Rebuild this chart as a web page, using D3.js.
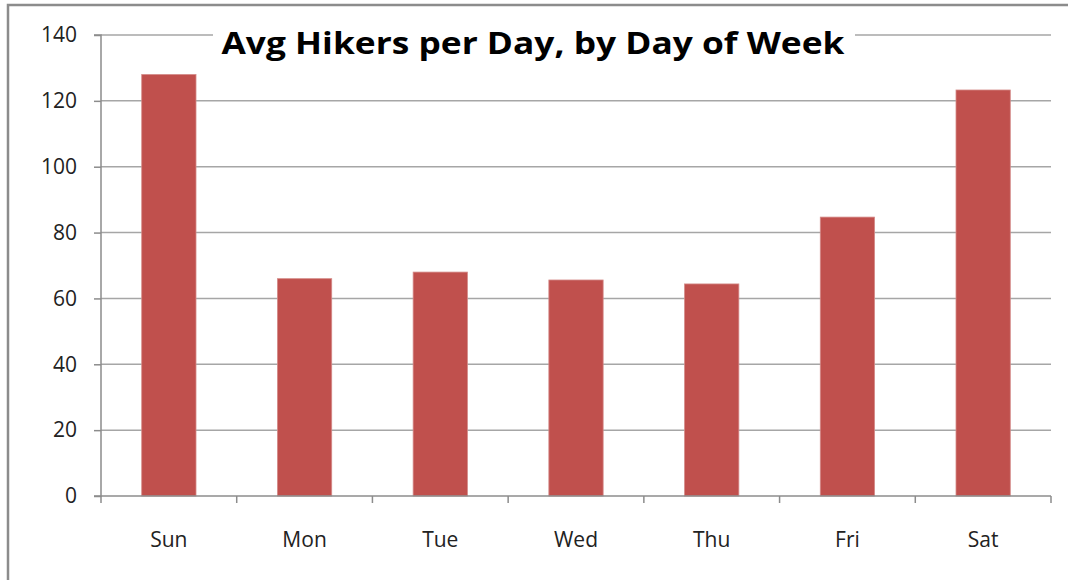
<!DOCTYPE html>
<html><head><meta charset="utf-8">
<script src="https://cdn.jsdelivr.net/npm/d3@7/dist/d3.min.js"></script>
<style>html,body{margin:0;padding:0;background:#fff;}</style>
</head><body>
<svg id="chart" width="1068" height="580"></svg>
<script>
const categories = ["Sun","Mon","Tue","Wed","Thu","Fri","Sat"];
const values = [128, 66, 68, 65.6, 64.4, 84.7, 123.3];
const yTicks = [0,20,40,60,80,100,120,140];
const title = "Avg Hikers per Day, by Day of Week";

(function(){
const svg = d3.select("#chart");
const mLeft = 101, mRight = 1051, mTop = 35, mBottom = 496;
const font = "'Open Sans', 'Liberation Sans', sans-serif";

// outer border
svg.append("path").attr("d","M8,1068 L8,5 L1068,5").attr("fill","none")
  .attr("stroke","#8c8c8c").attr("stroke-width",2.5);

const x = d3.scaleBand().domain(categories).range([mLeft,mRight]).padding(0);
const y = d3.scaleLinear().domain([0,140]).range([mBottom,mTop]);

// gridlines
svg.append("g").selectAll("line").data(yTicks.filter(d=>d>0)).join("line")
  .attr("x1",mLeft).attr("x2",mRight).attr("y1",d=>y(d)).attr("y2",d=>y(d))
  .attr("stroke","#a6a6a6").attr("stroke-width",1.5);

// bars
svg.append("g").selectAll("rect").data(categories).join("rect")
  .attr("x",d=>x(d)+x.bandwidth()*0.3)
  .attr("width",x.bandwidth()*0.4)
  .attr("y",(d,i)=>y(values[i]))
  .attr("height",(d,i)=>y(0)-y(values[i]))
  .attr("fill","#C0504D").attr("stroke","#d48a88").attr("stroke-width",0.8);

// y axis
const yAxis = svg.append("g").attr("transform",`translate(${mLeft},0)`)
  .call(d3.axisLeft(y).tickValues(yTicks).tickSize(7).tickPadding(17).tickFormat(d3.format("d")));
yAxis.select(".domain").attr("stroke","#8c8c8c").attr("stroke-width",1.5).attr("d",`M-7,${mTop}H0V${mBottom}H-7`);
yAxis.selectAll(".tick line").attr("stroke","#8c8c8c").attr("stroke-width",1.5);
yAxis.selectAll(".tick text").attr("font-family",font).attr("font-size",21).attr("fill","#222");

// x axis
const xAxis = svg.append("g").attr("transform",`translate(0,${mBottom})`)
  .call(d3.axisBottom(x).tickSize(0).tickPadding(36));
xAxis.select(".domain").attr("stroke","#8c8c8c").attr("stroke-width",1.5).attr("d",`M${mLeft},0H${mRight}`);
xAxis.selectAll(".tick text").attr("font-family",font).attr("font-size",21).attr("fill","#222");
const bounds = categories.map(c=>x(c)).concat([mRight]);
svg.append("g").selectAll("line").data(bounds).join("line")
  .attr("x1",d=>d).attr("x2",d=>d).attr("y1",mBottom).attr("y2",mBottom+7)
  .attr("stroke","#8c8c8c").attr("stroke-width",1.5);

// title
svg.append("rect").attr("x",213).attr("y",18).attr("width",642).attr("height",50).attr("fill","#fff");
const t = svg.append("text").attr("x",533).attr("y",54).attr("text-anchor","middle")
  .attr("font-family",font).attr("font-weight","bold").attr("font-size",30).attr("fill","#000")
  .text(title);
t.attr("textLength",623).attr("lengthAdjust","spacingAndGlyphs");
})();
</script>
</body></html>
